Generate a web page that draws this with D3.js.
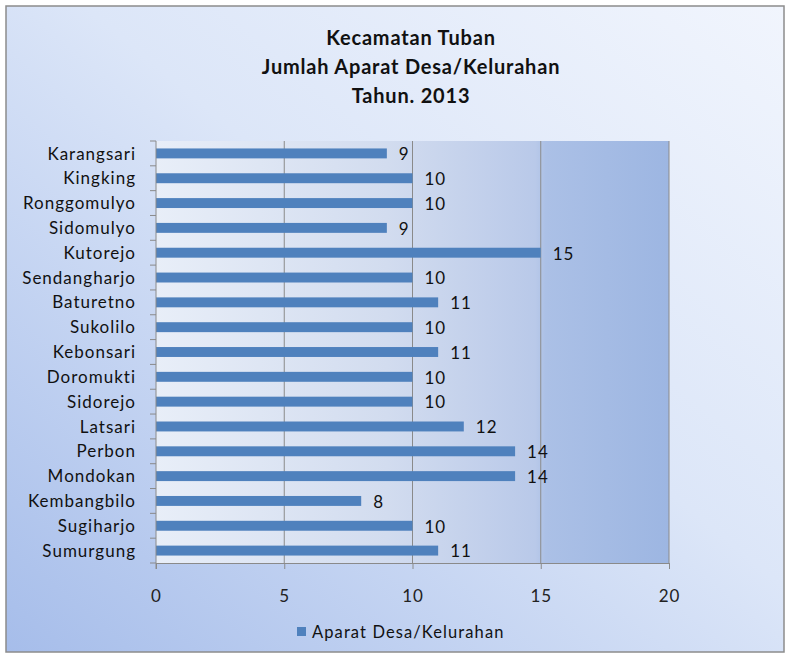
<!DOCTYPE html>
<html>
<head>
<meta charset="utf-8">
<script src="https://cdn.jsdelivr.net/npm/d3@7"></script>
<style>
  body { margin: 0; background: #fff; }
  svg { display: block; font-family: Lato, "Open Sans", sans-serif; }
</style>
</head>
<body>
<svg id="chart" width="789" height="656"></svg>
<script>
// data
var categories = ["Karangsari", "Kingking", "Ronggomulyo", "Sidomulyo", "Kutorejo",
  "Sendangharjo", "Baturetno", "Sukolilo", "Kebonsari", "Doromukti", "Sidorejo",
  "Latsari", "Perbon", "Mondokan", "Kembangbilo", "Sugiharjo", "Sumurgung"];
var values = [9, 10, 10, 9, 15, 10, 11, 10, 11, 10, 10, 12, 14, 14, 8, 10, 11];
var xTicks = [0, 5, 10, 15, 20];
var titleLines = ["Kecamatan Tuban", "Jumlah Aparat Desa/Kelurahan", "Tahun. 2013"];
var seriesName = "Aparat Desa/Kelurahan";

var svg = d3.select("#chart");
var margin = { top: 141, right: 120, bottom: 93, left: 156 };
var width = 789, height = 656;
var innerW = width - margin.left - margin.right;
var innerH = height - margin.top - margin.bottom;

var defs = svg.append("defs");
var bg = defs.append("linearGradient").attr("id", "bg")
  .attr("x1", "100%").attr("y1", "0%").attr("x2", "0%").attr("y2", "100%");
bg.append("stop").attr("offset", "0%").attr("stop-color", "#f1f5fd");
bg.append("stop").attr("offset", "45%").attr("stop-color", "#dce6f8");
bg.append("stop").attr("offset", "100%").attr("stop-color", "#a6bdea");

var plotBg = defs.append("linearGradient").attr("id", "plotbg")
  .attr("x1", "0%").attr("y1", "0%").attr("x2", "100%").attr("y2", "0%");
plotBg.append("stop").attr("offset", "0%").attr("stop-color", "#e8eef8");
plotBg.append("stop").attr("offset", "45%").attr("stop-color", "#d2dcef");
plotBg.append("stop").attr("offset", "74%").attr("stop-color", "#b9c9e9");
plotBg.append("stop").attr("offset", "76%").attr("stop-color", "#abc0e6");
plotBg.append("stop").attr("offset", "100%").attr("stop-color", "#9db6e2");

// outer frame
svg.append("rect")
  .attr("x", 6).attr("y", 6)
  .attr("width", 778).attr("height", 646)
  .attr("fill", "url(#bg)")
  .attr("stroke", "#8c8c8c")
  .attr("stroke-width", 1.5);

// title
svg.append("g").selectAll("text")
  .data(titleLines)
  .enter().append("text")
  .attr("x", 411)
  .attr("y", (d, i) => 45 + i * 29)
  .attr("text-anchor", "middle")
  .attr("font-size", "20px")
  .attr("font-weight", "bold")
  .attr("letter-spacing", "0.8px")
  .attr("fill", "#111")
  .text(d => d);

var x = d3.scaleLinear().domain([0, 20]).range([0, innerW]);
var y = d3.scaleBand().domain(categories).range([0, innerH]).paddingInner(0.6).paddingOuter(0.3);

var g = svg.append("g")
  .attr("transform", `translate(${margin.left},${margin.top})`);

g.append("rect")
  .attr("width", innerW)
  .attr("height", innerH)
  .attr("fill", "url(#plotbg)");

// gridlines
g.append("g")
  .selectAll("line")
  .data(xTicks.slice(1))
  .enter().append("line")
  .attr("x1", d => x(d)).attr("x2", d => x(d))
  .attr("y1", 0).attr("y2", innerH)
  .attr("stroke", "#8a8a8a")
  .attr("stroke-width", 1);

// bars
g.selectAll("rect.bar")
  .data(values)
  .enter().append("rect")
  .attr("class", "bar")
  .attr("x", 0)
  .attr("y", (d, i) => y(categories[i]))
  .attr("width", d => x(d))
  .attr("height", y.bandwidth())
  .attr("fill", "#4f81bd");

// value labels
g.selectAll("text.val")
  .data(values)
  .enter().append("text")
  .attr("class", "val")
  .attr("x", d => x(d) + 12)
  .attr("y", (d, i) => y(categories[i]) + y.bandwidth() / 2)
  .attr("dy", "0.4em")
  .attr("font-size", "17px")
  .attr("letter-spacing", "1px")
  .attr("fill", "#111")
  .text(d => d);

// y axis: left line with ticks at band boundaries
var step = y.step();
var yAxis = g.append("g");
yAxis.append("line")
  .attr("x1", 0).attr("x2", 0).attr("y1", 0).attr("y2", innerH + 6)
  .attr("stroke", "#8a8a8a");
yAxis.selectAll("line.tk")
  .data(d3.range(categories.length + 1))
  .enter().append("line")
  .attr("class", "tk")
  .attr("x1", -6).attr("x2", 0)
  .attr("y1", i => i * step).attr("y2", i => i * step)
  .attr("stroke", "#8a8a8a");
yAxis.selectAll("text")
  .data(categories)
  .enter().append("text")
  .attr("x", -20)
  .attr("y", d => y(d) + y.bandwidth() / 2)
  .attr("dy", "0.36em")
  .attr("text-anchor", "end")
  .attr("font-size", "17px")
  .attr("letter-spacing", "1px")
  .attr("fill", "#111")
  .text(d => d);

// x axis
var xAxis = g.append("g")
  .attr("transform", `translate(0,${innerH})`)
  .call(d3.axisBottom(x).tickValues(xTicks).tickSize(6).tickPadding(21));
xAxis.select(".domain").attr("stroke", "#8a8a8a");
xAxis.selectAll(".tick line").attr("stroke", "#8a8a8a");
xAxis.selectAll(".tick text")
  .attr("font-size", "17px")
  .attr("letter-spacing", "1px")
  .attr("font-family", "Lato, 'Open Sans', sans-serif")
  .attr("fill", "#222");

// legend
var legend = svg.append("g").attr("transform", "translate(297,627)");
legend.append("rect")
  .attr("width", 9).attr("height", 9)
  .attr("fill", "#4f81bd");
legend.append("text")
  .attr("x", 15).attr("y", 5)
  .attr("dy", "0.36em")
  .attr("font-size", "16.5px")
  .attr("letter-spacing", "1.1px")
  .attr("fill", "#111")
  .text(seriesName);
</script>
</body>
</html>
